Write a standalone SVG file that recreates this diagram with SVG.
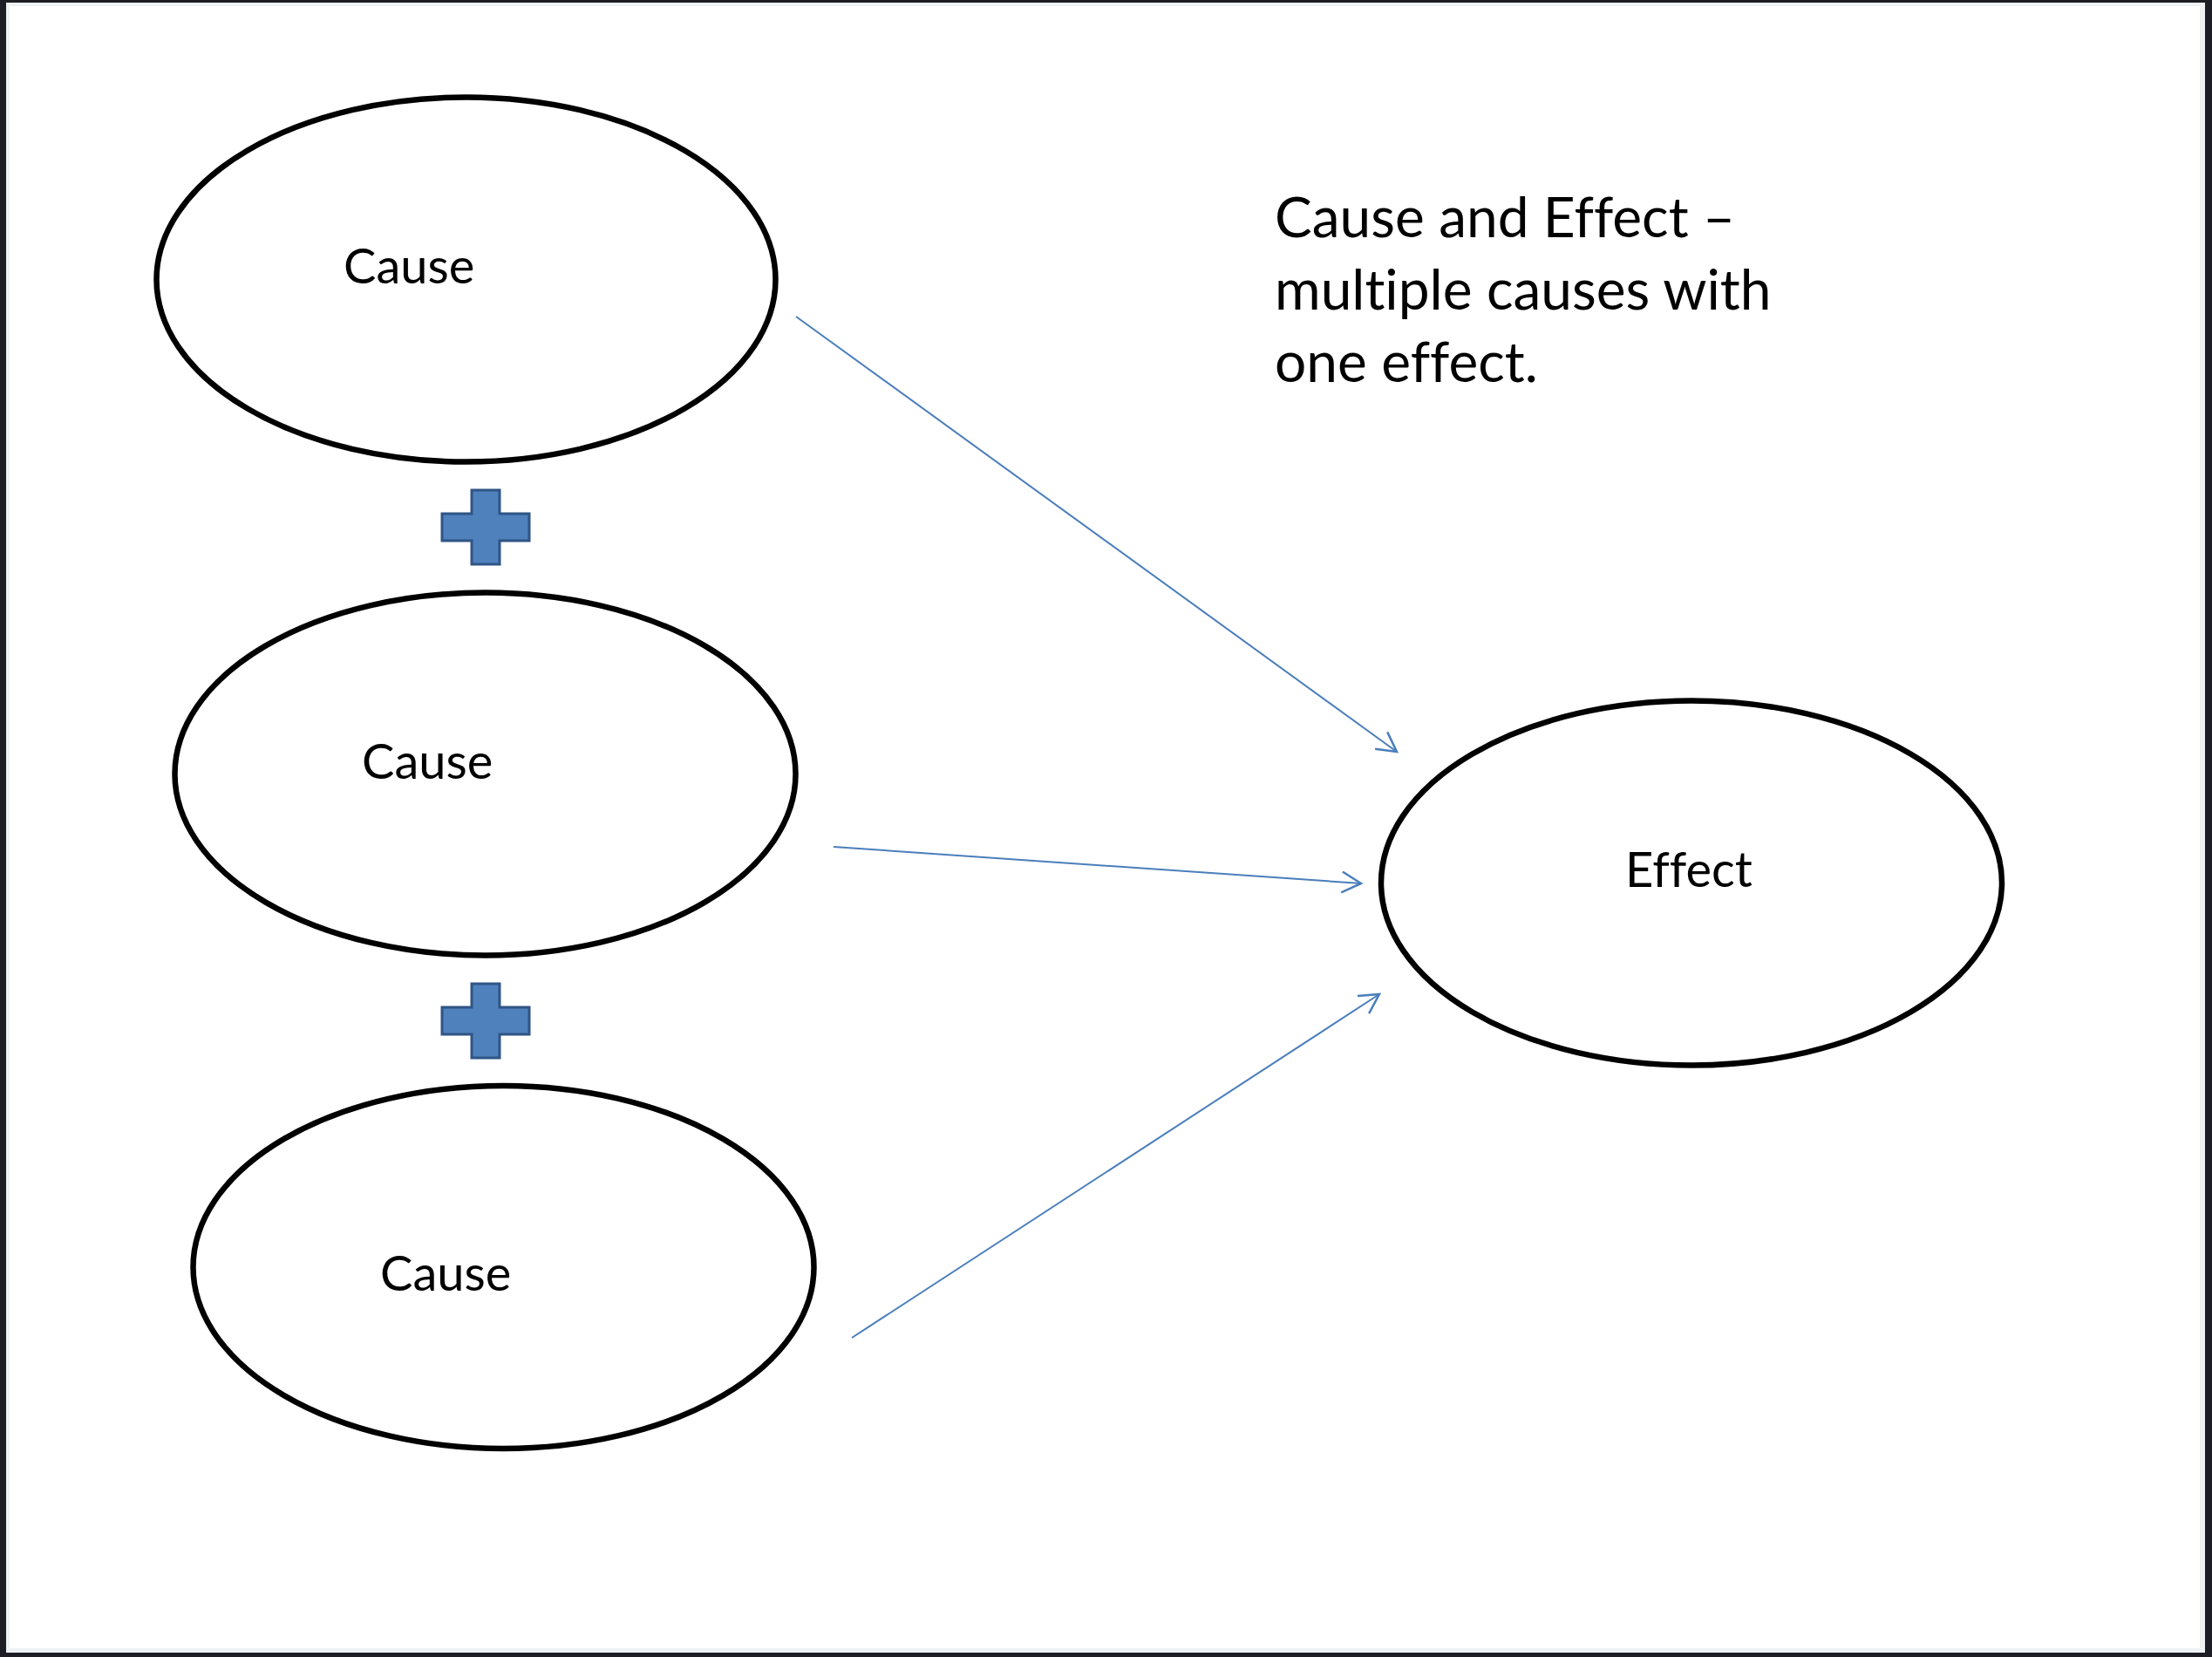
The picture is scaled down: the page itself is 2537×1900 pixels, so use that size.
<svg xmlns="http://www.w3.org/2000/svg" width="2537" height="1900" viewBox="0 0 2537 1900">
  <style>
    text { font-variant-ligatures: none; }
    .node ellipse { fill: #ffffff; stroke: #000000; stroke-width: 6.5; }
    .label { font-family: Lato, "Open Sans", sans-serif; font-size: 56px; fill: #000000; }
    .title { font-family: Lato, "Open Sans", sans-serif; font-size: 64px; fill: #000000; }
    .conn line { stroke: #4a7ebb; stroke-width: 2; fill: none; }
    .plus { fill: #4f81bd; stroke: #2f5585; stroke-width: 3; }
  </style>
  <defs>
    <marker id="open-arrow" markerWidth="30" markerHeight="30" refX="24" refY="13" orient="auto" markerUnits="userSpaceOnUse">
      <path d="M2,1 L24,13 L2,25" fill="none" stroke="#4a7ebb" stroke-width="2.5"/>
    </marker>
    <path id="plus-shape" d="M34,0 H66 V27 H100 V58 H66 V85 H34 V58 H0 V27 H34 Z"/>
  </defs>

  <!-- frame -->
  <rect x="0" y="0" width="2537" height="1900" fill="#1d1d26"/>
  <rect x="7" y="3" width="2522" height="1892" fill="#eef2f2"/>
  <rect x="11" y="7" width="2512" height="1883" fill="#ffffff"/>

  <!-- connectors -->
  <g id="connectors" class="conn">
    <line x1="913" y1="363" x2="1602" y2="862" marker-end="url(#open-arrow)"/>
    <line x1="956" y1="971" x2="1561" y2="1013" marker-end="url(#open-arrow)"/>
    <line x1="977" y1="1534" x2="1582" y2="1140" marker-end="url(#open-arrow)"/>
  </g>

  <!-- nodes -->
  <g id="cause-1" class="node">
    <ellipse cx="534.5" cy="320.5" rx="355" ry="209"/>
    <text class="label" x="394" y="325">Cause</text>
  </g>
  <g id="cause-2" class="node">
    <ellipse cx="556.5" cy="887.5" rx="356" ry="208"/>
    <text class="label" x="415" y="893">Cause</text>
  </g>
  <g id="cause-3" class="node">
    <ellipse cx="577.5" cy="1453" rx="356" ry="208"/>
    <text class="label" x="436" y="1480">Cause</text>
  </g>
  <g id="effect" class="node">
    <ellipse cx="1940" cy="1012.5" rx="356" ry="209"/>
    <text class="label" x="1864" y="1017">Effect</text>
  </g>

  <!-- plus signs between causes -->
  <g id="plus-1">
    <use href="#plus-shape" class="plus" x="507" y="562"/>
  </g>
  <g id="plus-2">
    <use href="#plus-shape" class="plus" x="507" y="1128"/>
  </g>

  <!-- caption -->
  <g id="caption">
    <text class="title" x="1462" y="272">Cause and Effect –</text>
    <text class="title" x="1462" y="355">multiple causes with</text>
    <text class="title" x="1462" y="438">one effect.</text>
  </g>
</svg>
